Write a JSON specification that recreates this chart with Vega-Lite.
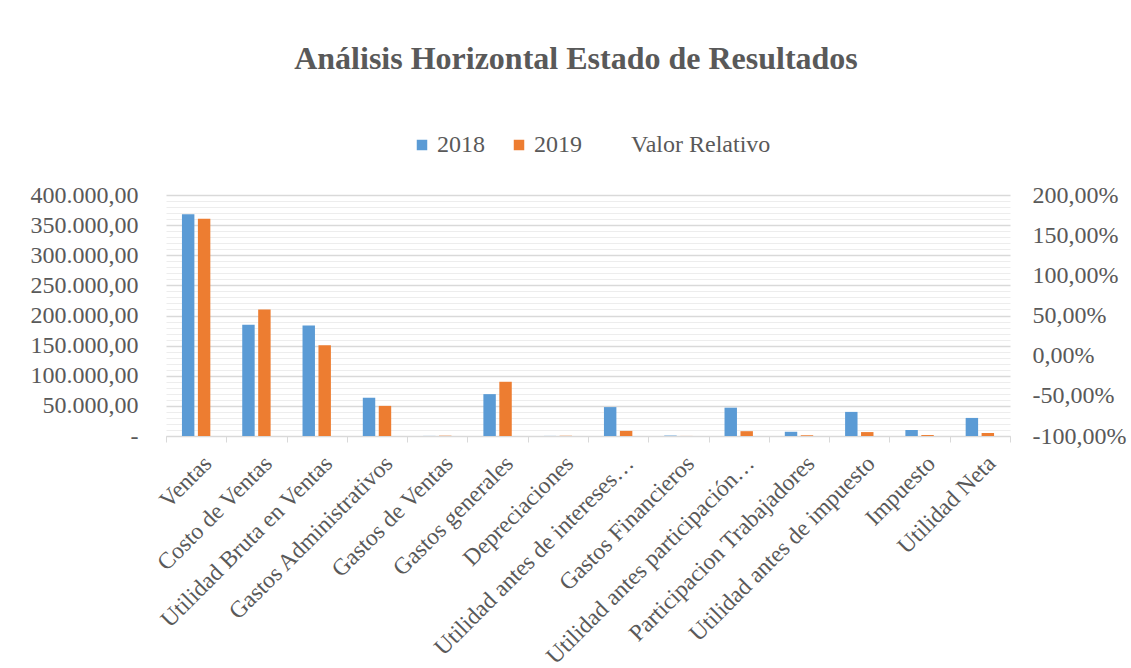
{
  "$schema": "https://vega.github.io/schema/vega-lite/v6.json",
  "width": 844,
  "height": 241,
  "autosize": {"type": "none"},
  "padding": {"left": 166, "top": 195, "right": 121, "bottom": 232},
  "background": "white",
  "config": {
    "locale": {"number": {"decimal": ",", "thousands": ".", "grouping": [3], "currency": ["$", ""], "percent": "%", "minus": "-"}},
    "view": {"stroke": null},
    "font": "Liberation Serif",
    "legend": {"labelFont": "Liberation Serif", "labelFontSize": 24, "labelColor": "#595959"},
    "axis": {"labelFont": "Liberation Serif", "labelFontSize": 24, "labelColor": "#595959"}
  },
  "title": {
    "text": "Análisis Horizontal Estado de Resultados",
    "font": "Liberation Serif",
    "fontSize": 32,
    "fontWeight": "bold",
    "color": "#595959",
    "anchor": "middle",
    "frame": "group",
    "dx": -12,
    "offset": 57
  },
  "datasets": {
    "valores": [
      {"categoria": "Ventas", "anio": "2018", "valor": 368000},
      {"categoria": "Ventas", "anio": "2019", "valor": 360500},
      {"categoria": "Costo de Ventas", "anio": "2018", "valor": 184500},
      {"categoria": "Costo de Ventas", "anio": "2019", "valor": 210000},
      {"categoria": "Utilidad Bruta en Ventas", "anio": "2018", "valor": 183500},
      {"categoria": "Utilidad Bruta en Ventas", "anio": "2019", "valor": 150500},
      {"categoria": "Gastos Administrativos", "anio": "2018", "valor": 63500},
      {"categoria": "Gastos Administrativos", "anio": "2019", "valor": 50000},
      {"categoria": "Gastos de Ventas", "anio": "2018", "valor": 150},
      {"categoria": "Gastos de Ventas", "anio": "2019", "valor": 500},
      {"categoria": "Gastos generales", "anio": "2018", "valor": 69500},
      {"categoria": "Gastos generales", "anio": "2019", "valor": 90000},
      {"categoria": "Depreciaciones", "anio": "2018", "valor": 150},
      {"categoria": "Depreciaciones", "anio": "2019", "valor": 400},
      {"categoria": "Utilidad antes de intereses…", "anio": "2018", "valor": 48000},
      {"categoria": "Utilidad antes de intereses…", "anio": "2019", "valor": 8500},
      {"categoria": "Gastos Financieros", "anio": "2018", "valor": 700},
      {"categoria": "Gastos Financieros", "anio": "2019", "valor": 100},
      {"categoria": "Utilidad antes participación…", "anio": "2018", "valor": 47000},
      {"categoria": "Utilidad antes participación…", "anio": "2019", "valor": 8000},
      {"categoria": "Participacion Trabajadores", "anio": "2018", "valor": 7000},
      {"categoria": "Participacion Trabajadores", "anio": "2019", "valor": 1200},
      {"categoria": "Utilidad antes de impuesto", "anio": "2018", "valor": 40000},
      {"categoria": "Utilidad antes de impuesto", "anio": "2019", "valor": 6500},
      {"categoria": "Impuesto", "anio": "2018", "valor": 10000},
      {"categoria": "Impuesto", "anio": "2019", "valor": 1600},
      {"categoria": "Utilidad Neta", "anio": "2018", "valor": 30000},
      {"categoria": "Utilidad Neta", "anio": "2019", "valor": 5000}
    ],
    "relativo": [
      {"categoria": "Ventas", "relativo": -0.0204},
      {"categoria": "Costo de Ventas", "relativo": 0.1382},
      {"categoria": "Utilidad Bruta en Ventas", "relativo": -0.1798},
      {"categoria": "Gastos Administrativos", "relativo": -0.2126},
      {"categoria": "Gastos de Ventas", "relativo": 2.0},
      {"categoria": "Gastos generales", "relativo": 0.295},
      {"categoria": "Depreciaciones", "relativo": 1.6667},
      {"categoria": "Utilidad antes de intereses…", "relativo": -0.8229},
      {"categoria": "Gastos Financieros", "relativo": -0.8571},
      {"categoria": "Utilidad antes participación…", "relativo": -0.8298},
      {"categoria": "Participacion Trabajadores", "relativo": -0.8286},
      {"categoria": "Utilidad antes de impuesto", "relativo": -0.8375},
      {"categoria": "Impuesto", "relativo": -0.84},
      {"categoria": "Utilidad Neta", "relativo": -0.8333}
    ]
  },
  "layer": [
    {
      "data": {"name": "valores"},
      "mark": {"type": "bar"},
      "encoding": {
        "x": {
          "field": "categoria",
          "type": "nominal",
          "sort": null,
          "scale": {"paddingInner": 0, "paddingOuter": 0},
          "axis": {
            "title": null,
            "labelAngle": -45,
            "labelFont": "Liberation Serif",
            "labelFontSize": 23.5,
            "labelColor": "#595959",
            "labelPadding": 9,
            "labelOffset": 3,
            "labelLimit": 400,
            "tickBand": "extent",
            "tickSize": 6,
            "tickColor": "#D9D9D9",
            "domainColor": "#D9D9D9",
            "domainWidth": 1,
            "grid": false
          }
        },
        "xOffset": {
          "field": "anio",
          "type": "nominal",
          "scale": {"paddingInner": 0.22, "paddingOuter": 1.12}
        },
        "y": {
          "field": "valor",
          "type": "quantitative",
          "scale": {"domain": [0, 400000], "nice": false},
          "axis": {
            "title": null,
            "orient": "left",
            "values": [0, 10000, 20000, 30000, 40000, 50000, 60000, 70000, 80000, 90000, 100000, 110000, 120000, 130000, 140000, 150000, 160000, 170000, 180000, 190000, 200000, 210000, 220000, 230000, 240000, 250000, 260000, 270000, 280000, 290000, 300000, 310000, 320000, 330000, 340000, 350000, 360000, 370000, 380000, 390000, 400000],
            "format": ",.2f",
            "labelExpr": "datum.value % 50000 === 0 ? (datum.value === 0 ? '-\u00a0\u00a0\u00a0' : datum.label) : ''",
            "labelFont": "Liberation Serif",
            "labelFontSize": 24,
            "labelColor": "#595959",
            "labelPadding": 28,
            "ticks": false,
            "domain": false,
            "grid": true,
            "gridColor": {"condition": {"test": "datum.value % 50000 === 0", "value": "#D9D9D9"}, "value": "#EDEDED"},
            "gridWidth": {"condition": {"test": "datum.value % 50000 === 0", "value": 1.3}, "value": 1}
          }
        },
        "color": {
          "field": "anio",
          "type": "nominal",
          "scale": {"domain": ["2018", "2019", "Valor Relativo"], "range": ["#5B9BD5", "#ED7D31", "rgba(255,255,255,0)"]},
          "legend": {
            "title": null,
            "orient": "none",
            "legendX": 244,
            "legendY": -62,
            "direction": "horizontal",
            "symbolType": "square",
            "symbolSize": 110,
            "symbolStrokeWidth": 0,
            "labelFont": "Liberation Serif",
            "labelFontSize": 24,
            "labelColor": "#595959",
            "labelOffset": 3,
            "columnPadding": 22,
            "encode": {
              "labels": {"update": {"font": {"value": "Liberation Serif"}, "fontSize": {"value": 24}, "fill": {"value": "#595959"}}}
            }
          }
        }
      }
    },
    {
      "data": {"name": "relativo"},
      "mark": {"type": "line", "strokeOpacity": 0},
      "encoding": {
        "x": {"field": "categoria", "type": "nominal", "sort": null},
        "y": {
          "field": "relativo",
          "type": "quantitative",
          "scale": {"domain": [-1, 2], "nice": false},
          "axis": {
            "title": null,
            "orient": "right",
            "values": [-1, -0.5, 0, 0.5, 1, 1.5, 2],
            "format": ".2%",
            "labelFont": "Liberation Serif",
            "labelFontSize": 24,
            "labelColor": "#595959",
            "labelPadding": 22,
            "ticks": false,
            "domain": false,
            "grid": false
          }
        },
        "color": {"datum": "Valor Relativo", "type": "nominal"}
      }
    }
  ],
  "resolve": {"scale": {"y": "independent"}}
}
